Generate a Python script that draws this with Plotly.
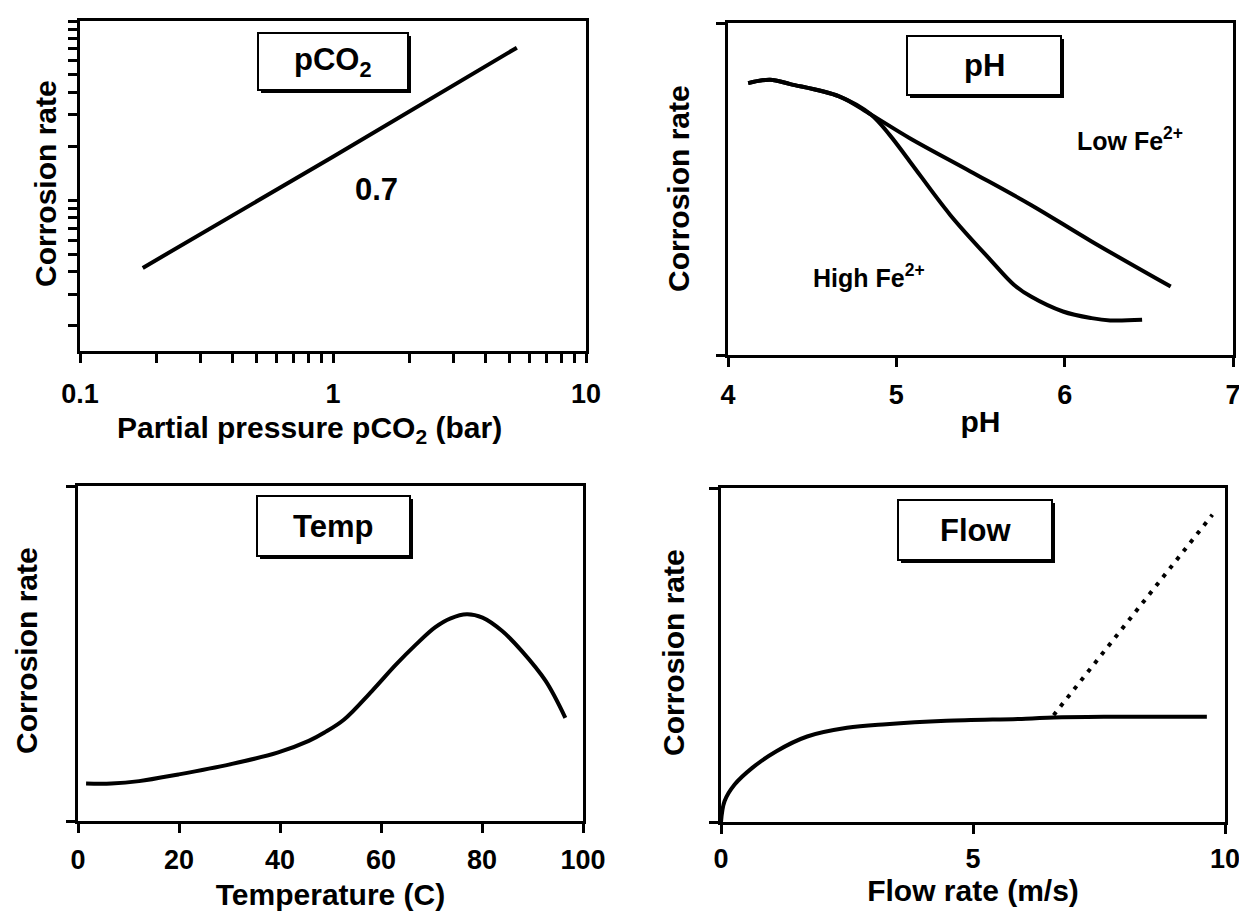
import numpy as np
import plotly.graph_objects as go

W, H = 1247, 911
FONT = "Liberation Sans, Arial, sans-serif"

# ---------------- data ----------------
# Panel 1: corrosion rate vs pCO2 (log-log)
pco2_x = [0.177, 1.0, 5.33]
pco2_y = [0.42, 1.75, 7.1]
pco2_xmajor = [0.1, 1, 10]
pco2_xlabels = ["0.1", "1", "10"]
pco2_xminor = [0.2, 0.3, 0.4, 0.5, 0.6, 0.7, 0.8, 0.9, 2, 3, 4, 5, 6, 7, 8, 9]
pco2_yticks = [0.2, 0.3, 0.4, 0.5, 0.6, 0.7, 0.8, 0.9, 1, 2, 3, 4, 5, 6, 7, 8, 9, 10]

# Panel 2: corrosion rate vs pH
ph_common_x = [4.12, 4.25, 4.37, 4.66, 4.85]
ph_common_y = [8.19, 8.29, 8.16, 7.79, 7.24]
ph_low_x = [5.08, 5.44, 5.80, 6.16, 6.63]
ph_low_y = [6.53, 5.53, 4.52, 3.42, 2.06]
ph_high_x = [4.96, 5.08, 5.32, 5.56, 5.70, 5.80, 5.99, 6.16, 6.27, 6.46]
ph_high_y = [6.63, 5.83, 4.22, 2.86, 2.11, 1.76, 1.31, 1.11, 1.04, 1.06]
ph_ticks = [4, 5, 6, 7]

# Panel 3: corrosion rate vs temperature
temp_x = [1.6, 6.6, 12.1, 19.9, 30.1, 39.5, 45.7, 48.8, 52.7, 58.2, 62.9,
          66.8, 70.7, 73.8, 77.0, 80.1, 84.0, 87.9, 92.6, 96.5]
temp_y = [1.12, 1.12, 1.19, 1.39, 1.69, 2.04, 2.39, 2.64, 3.03, 3.88, 4.66,
          5.25, 5.78, 6.05, 6.17, 6.07, 5.67, 5.07, 4.18, 3.08]
temp_ticks = [0, 20, 40, 60, 80, 100]

# Panel 4: corrosion rate vs flow rate
flow_x = [0, 0.07, 0.27, 0.62, 1.1, 1.71, 2.5, 3.28, 4.47, 6.05, 6.6, 7.63, 9.64]
flow_y = [0, 0.62, 1.12, 1.62, 2.12, 2.56, 2.82, 2.93, 3.03, 3.09, 3.13, 3.15, 3.15]
flow_dot_x = [6.6, 9.75]
flow_dot_y = [3.2, 9.2]
flow_ticks = [0, 5, 10]

Y_TITLE = "Corrosion rate"

# ---------------- layout geometry (pixels) ----------------
def dom_x(a, b):
    return [a / W, b / W]

def dom_y(top, bottom):
    return [1 - bottom / H, 1 - top / H]

SPL = dict(color="black", width=4, shape="spline", smoothing=1.0)

fig = go.Figure()
fig.add_trace(go.Scatter(x=pco2_x, y=pco2_y, mode="lines",
                         line=dict(color="black", width=4), xaxis="x", yaxis="y"))
fig.add_trace(go.Scatter(x=ph_common_x + ph_low_x, y=ph_common_y + ph_low_y, mode="lines",
                         line=SPL, xaxis="x2", yaxis="y2"))
fig.add_trace(go.Scatter(x=ph_common_x + ph_high_x, y=ph_common_y + ph_high_y, mode="lines",
                         line=SPL, xaxis="x2", yaxis="y2"))
fig.add_trace(go.Scatter(x=temp_x, y=temp_y, mode="lines", line=SPL, xaxis="x3", yaxis="y3"))
fig.add_trace(go.Scatter(x=flow_x, y=flow_y, mode="lines", line=SPL, xaxis="x4", yaxis="y4"))
fig.add_trace(go.Scatter(x=flow_dot_x, y=flow_dot_y, mode="lines",
                         line=dict(color="black", width=4, dash="4px,7px"),
                         xaxis="x4", yaxis="y4"))

tickfont = dict(family=FONT, size=27, color="black", weight="bold")
titlefont = dict(family=FONT, size=30, color="black", weight="bold")


def axis(**kw):
    base = dict(showline=True, linewidth=3, linecolor="black", mirror=True,
                ticks="outside", ticklen=9, tickwidth=3, tickcolor="black",
                showgrid=False, zeroline=False, tickfont=tickfont,
                automargin=False, fixedrange=True)
    base.update(kw)
    return base


MINOR = dict(ticks="outside", ticklen=9, tickwidth=3, tickcolor="black", showgrid=False)

layout = dict(
    width=W, height=H, margin=dict(l=0, r=0, t=0, b=0),
    paper_bgcolor="white", plot_bgcolor="white", showlegend=False,
    xaxis=axis(domain=dom_x(72, 578), anchor="y", type="log", range=[-1, 1],
               tickmode="array", tickvals=pco2_xmajor, ticktext=pco2_xlabels,
               minor=dict(tickmode="array", tickvals=pco2_xminor, **MINOR),
               ticklabelstandoff=8),
    yaxis=axis(domain=dom_y(13, 343), anchor="x", type="log", range=[-0.84, 1.0],
               tickmode="array", tickvals=pco2_yticks, showticklabels=False),
    xaxis2=axis(domain=dom_x(720, 1225), anchor="y2", range=[4, 7],
                tickmode="array", tickvals=ph_ticks, ticklabelstandoff=5,
                title=dict(text="pH", font=titlefont, standoff=2)),
    yaxis2=axis(domain=dom_y(15, 347), anchor="x2", range=[0, 10],
                tickmode="array", tickvals=[0, 10], showticklabels=False),
    xaxis3=axis(domain=dom_x(70, 575), anchor="y3", range=[0, 100],
                tickmode="array", tickvals=temp_ticks, ticklabelstandoff=4,
                title=dict(text="Temperature (C)", font=titlefont, standoff=10)),
    yaxis3=axis(domain=dom_y(478, 813), anchor="x3", range=[0, 10],
                tickmode="array", tickvals=[0, 10], showticklabels=False),
    xaxis4=axis(domain=dom_x(713, 1217), anchor="y4", range=[0, 10],
                tickmode="array", tickvals=flow_ticks, ticklabelstandoff=2,
                title=dict(text="Flow rate (m/s)", font=titlefont, standoff=7)),
    yaxis4=axis(domain=dom_y(480, 814), anchor="x4", range=[0, 10],
                tickmode="array", tickvals=[0, 10], showticklabels=False),
)

shapes = []
annotations = []

# x-axis title of panel 1 sits left of the panel centre in the original
annotations.append(dict(text="Partial pressure pCO<sub>2</sub> (bar)", xref="paper", yref="paper",
                        x=301 / W, y=1 - 421 / H, xanchor="center", yanchor="middle",
                        showarrow=False, font=titlefont))

# y-axis titles (rotated), centred on each panel's vertical extent
ytitle_pos = [(37, 176), (670, 181), (18, 643), (665, 645)]
for xc, yc in ytitle_pos:
    annotations.append(dict(text=Y_TITLE, xref="paper", yref="paper",
                            x=xc / W, y=1 - yc / H, textangle=-90,
                            xanchor="center", yanchor="middle", showarrow=False,
                            font=titlefont))

# label boxes with drop shadow (pixel rectangles -> paper)
boxes = [
    ("pCO<sub>2</sub>", 250, 25, 400, 82),
    ("pH", 899, 28, 1053, 87),
    ("Temp", 249, 488, 402, 548),
    ("Flow", 890, 492, 1044, 552),
]
for text, x0, y0, x1, y1 in boxes:
    shapes.append(dict(type="rect", xref="paper", yref="paper",
                       x0=(x0 + 3) / W, x1=(x1 + 3) / W, y0=1 - (y1 + 3) / H, y1=1 - (y0 + 3) / H,
                       fillcolor="black", line=dict(width=0), layer="above"))
    shapes.append(dict(type="rect", xref="paper", yref="paper",
                       x0=x0 / W, x1=x1 / W, y0=1 - y1 / H, y1=1 - y0 / H,
                       fillcolor="white", line=dict(color="black", width=2), layer="above"))
    annotations.append(dict(text=text, xref="paper", yref="paper",
                            x=(x0 + x1) / 2 / W, y=1 - (y0 + y1) / 2 / H,
                            xanchor="center", yanchor="middle", showarrow=False,
                            font=dict(family=FONT, size=31, color="black", weight="bold")))

annotations.append(dict(text="0.7", xref="x", yref="y", x=np.log10(1.49), y=np.log10(1.15),
                        showarrow=False, font=dict(family=FONT, size=31, color="black", weight="bold")))
annotations.append(dict(text="Low Fe<sup>2+</sup>", xref="x2", yref="y2", x=6.39, y=6.5,
                        showarrow=False, font=dict(family=FONT, size=25, color="black", weight="bold")))
annotations.append(dict(text="High Fe<sup>2+</sup>", xref="x2", yref="y2", x=4.84, y=2.38,
                        showarrow=False, font=dict(family=FONT, size=25, color="black", weight="bold")))

layout["shapes"] = shapes
layout["annotations"] = annotations
fig.update_layout(**layout)

fig.write_html("out.html")
